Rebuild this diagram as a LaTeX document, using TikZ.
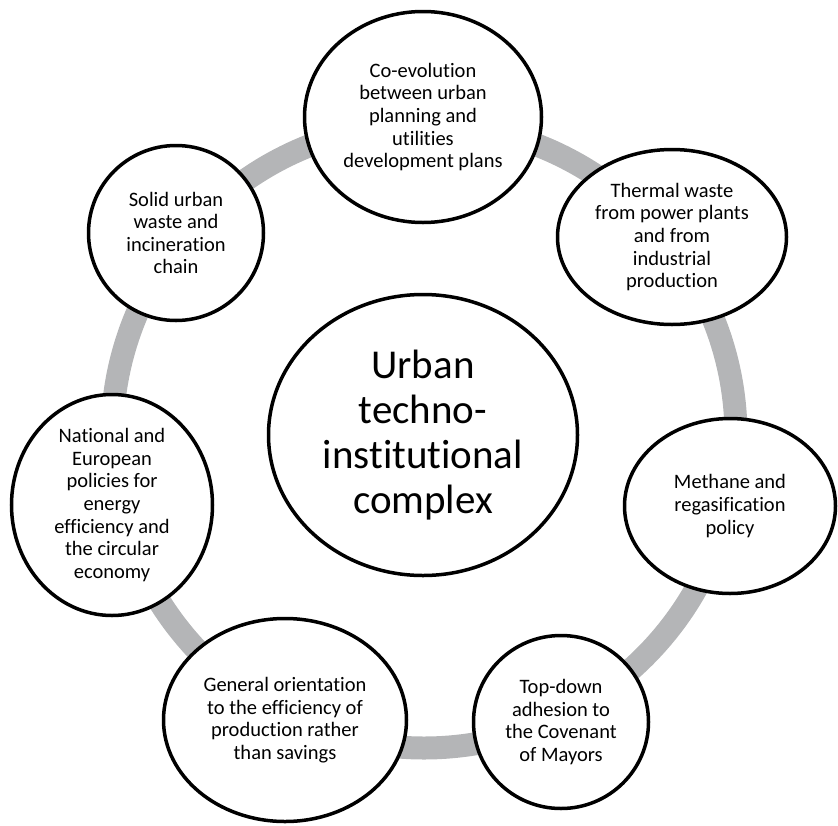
\documentclass[tikz,border=0pt]{standalone}
\usepackage{fontspec}
\setmainfont{Carlito}[Ligatures=NoCommon]
\usetikzlibrary{shapes.geometric}

\definecolor{ringgray}{RGB}{180,181,183}

\tikzset{
  bubble/.style={shape=ellipse,draw=black,fill=white,line width=3.5pt,inner sep=0pt,
    align=center,font=\fontsize{20.5}{22.6}\selectfont},
  hub/.style={bubble,font=\fontsize{41}{45}\selectfont},
  ring/.style={draw=ringgray,line width=23pt}
}

\begin{document}
\begin{tikzpicture}[x=1pt,y=-1pt]
      \useasboundingbox (0,0) rectangle (838,825);

      \coordinate (O) at (424,436);
      \draw[ring] (O) circle (312pt);

      \node[hub,minimum width=309pt,minimum height=281pt] (C) at (423,435)
        {Urban\\techno-\\institutional\\complex};

      \node[bubble,minimum width=237pt,minimum height=211pt] (M1) at (423,117)
        {Co-evolution\\between urban\\planning and\\utilities\\development plans};
      \node[bubble,minimum width=229pt,minimum height=175pt] (M2) at (672,237)
        {Thermal waste\\from power plants\\and from\\industrial\\production};
      \node[bubble,minimum width=211pt,minimum height=175pt] (M3) at (730,506)
        {Methane and\\regasification\\policy};
      \node[bubble,minimum width=175pt,minimum height=173pt] (M4) at (561,722)
        {Top-down\\adhesion to\\the Covenant\\of Mayors};
      \node[bubble,minimum width=243pt,minimum height=203pt] (M5) at (285,720)
        {General orientation\\to the efficiency of\\production rather\\than savings};
      \node[bubble,minimum width=201pt,minimum height=221pt] (M6) at (112,505)
        {National and\\European\\policies for\\energy\\efficiency and\\the circular\\economy};
      \node[bubble,minimum width=175pt,minimum height=175pt] (M7) at (176,233)
        {Solid urban\\waste and\\incineration\\chain};
  \end{tikzpicture}
\end{document}
